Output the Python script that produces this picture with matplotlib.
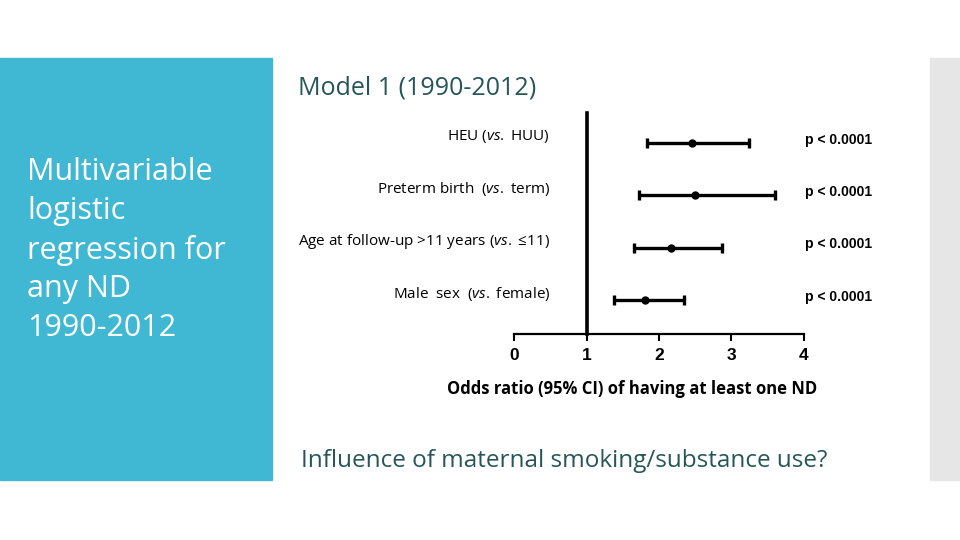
from matplotlib import pyplot as plt
from matplotlib.patches import Rectangle
import numpy as np

plt.rcParams['font.family'] = ['Open Sans', 'DejaVu Sans']
plt.rcParams['mathtext.fontset'] = 'custom'
plt.rcParams['mathtext.it'] = 'Open Sans:italic'
plt.rcParams['mathtext.rm'] = 'Open Sans'

# forest plot data (odds ratio with 95% CI)
labels = ['HEU ($\\mathit{vs.}$ HUU)',
          'Preterm birth  ($\\mathit{vs.}$ term)',
          'Age at follow-up >11 years ($\\mathit{vs.}$ ≤11)',
          'Male  sex  ($\\mathit{vs.}$ female)']
odds = [2.45, 2.50, 2.17, 1.80]
ci_low = [1.84, 1.73, 1.65, 1.38]
ci_high = [3.24, 3.60, 2.87, 2.35]
pvals = ['p < 0.0001', 'p < 0.0001', 'p < 0.0001', 'p < 0.0001']
xticks = [0, 1, 2, 3, 4]
side_lines = ['Multivariable', 'logistic', 'regression for', 'any ND', '1990-2012']

W, H = 960, 540
teal = '#27565A'
fig = plt.figure(figsize=(9.6, 5.4), dpi=100)

# slide decorations
fig.patches.append(Rectangle((0, 1 - 480 / H), 272 / W, 422 / H,
                             transform=fig.transFigure, color='#41B8D3', zorder=0))
fig.patches.append(Rectangle((930 / W, 1 - 480 / H), 30 / W, 422 / H,
                             transform=fig.transFigure, color='#E6E6E6', zorder=0))

for i, line in enumerate(side_lines):
    fig.text(27 / W, 1 - (172 + 39 * i) / H, line, color='white', fontsize=22,
             va='center', ha='left')
fig.text(298 / W, 1 - 88 / H, 'Model 1 (1990-2012)', fontsize=18, va='center', color=teal)
fig.text(301 / W, 1 - 461 / H, 'Influence of maternal smoking/substance use?',
         fontsize=17.5, va='center', color=teal)

ax = fig.add_axes([514 / W, 1 - 334 / H, 290 / W, 221 / H])
y = np.arange(len(labels))[::-1] + 1
ax.errorbar(odds, y, xerr=[np.array(odds) - np.array(ci_low), np.array(ci_high) - np.array(odds)],
            fmt='o', color='black', ms=5, lw=2.4, capsize=3.5, capthick=2.4)
ax.set_xlim(0, 4)
ax.set_ylim(0.35, 4.57)
ax.set_xticks(xticks)
ax.set_xticklabels([str(t) for t in xticks], fontsize=12.5, fontweight='bold', family='Liberation Sans')
ax.tick_params(axis='x', length=5, width=1.5, pad=5)
ax.set_yticks([])
for s in ['top', 'right']:
    ax.spines[s].set_visible(False)
ax.spines['left'].set_position(('data', 1))
ax.spines['left'].set_linewidth(2.6)
ax.spines['bottom'].set_linewidth(1.6)
ax.set_xlabel('Odds ratio (95% CI) of having at least one ND', fontsize=12,
              fontweight='bold', va='center')
ax.xaxis.set_label_coords((632 - 514) / 290, -(389 - 334) / 221)

for yi, lab, p in zip(y, labels, pvals):
    ax.text(0.5, yi + 0.12, lab, ha='right', va='center', fontsize=11, clip_on=False)
    ax.text(4.02, yi + 0.06, p, ha='left', va='center', fontsize=10, fontweight='bold',
            family='Liberation Sans', clip_on=False)

fig.savefig('out.png', dpi=100)
